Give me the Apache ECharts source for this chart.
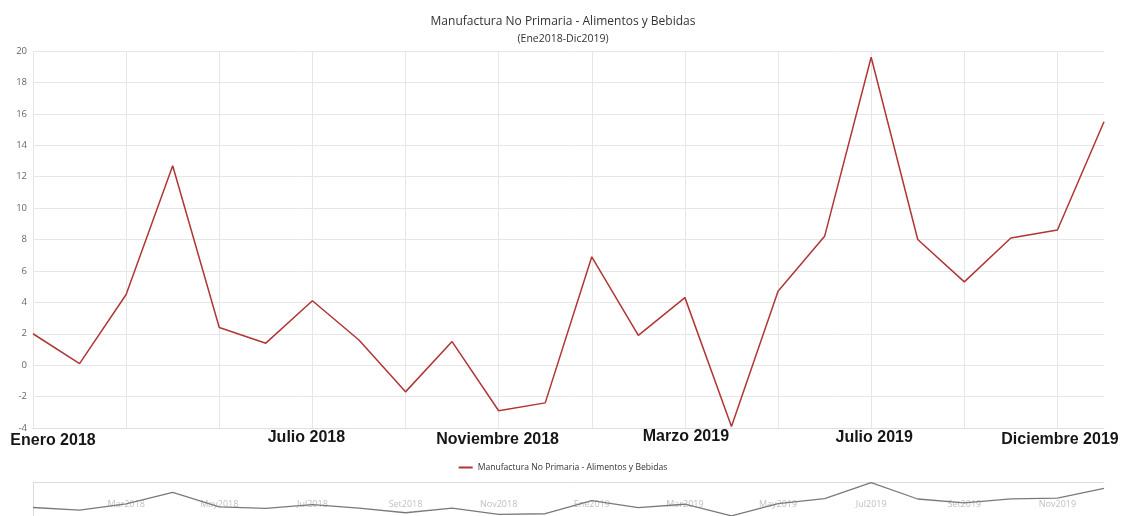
<!DOCTYPE html>
<html>
<head>
<meta charset="utf-8">
<script src="https://cdn.jsdelivr.net/npm/echarts@6/dist/echarts.min.js"></script>
<style>html,body{margin:0;padding:0;background:#fff;}#c{width:1126px;height:516px;}</style>
</head>
<body>
<div id="c"></div>
<script>
const categories = ['Ene2018','Feb2018','Mar2018','Abr2018','May2018','Jun2018','Jul2018','Ago2018','Set2018','Oct2018','Nov2018','Dic2018',
                    'Ene2019','Feb2019','Mar2019','Abr2019','May2019','Jun2019','Jul2019','Ago2019','Set2019','Oct2019','Nov2019','Dic2019'];
const values = [2.0, 0.1, 4.5, 12.7, 2.4, 1.4, 4.1, 1.6, -1.7, 1.5, -2.9, -2.4,
                6.9, 1.9, 4.3, -3.9, 4.7, 8.2, 19.6, 8.0, 5.3, 8.1, 8.6, 15.5];
const seriesName = 'Manufactura No Primaria - Alimentos y Bebidas';
const titleText = 'Manufactura No Primaria - Alimentos y Bebidas';
const subtitleText = '(Ene2018-Dic2019)';
const yTicks = {min: -4, max: 20, interval: 2};
const highlightIdx = [0, 6, 10, 14, 18, 23];
const highlightLabels = ['Enero 2018', 'Julio 2018', 'Noviembre 2018', 'Marzo 2019', 'Julio 2019', 'Diciembre 2019'];

const chart = echarts.init(document.getElementById('c'), null, {renderer: 'canvas'});
const font = '"Open Sans", "Noto Sans", sans-serif';
chart.setOption({
  animation: false,
  backgroundColor: '#fff',
  title: {
    text: titleText, subtext: subtitleText, left: 'center', top: 11, itemGap: 6,
    textStyle: {fontFamily: font, fontSize: 12, fontWeight: 'normal', color: '#333'},
    subtextStyle: {fontFamily: font, fontSize: 10.5, color: '#333'}
  },
  legend: {
    data: [seriesName], top: 458, left: 'center', icon: 'rect', itemWidth: 14, itemHeight: 2, itemGap: 5,
    textStyle: {fontFamily: font, fontSize: 8.6, color: '#333'}
  },
  grid: [
    {left: 33, right: 22, top: 51, bottom: 88},
    {left: 33, right: 22, top: 482, height: 34}
  ],
  xAxis: [
    {type: 'category', gridIndex: 0, data: categories, boundaryGap: false,
     axisLine: {show: true, onZero: false, lineStyle: {color: '#e0e0e0'}}, axisTick: {show: false},
     axisLabel: {show: false},
     splitLine: {show: true, interval: 1, lineStyle: {color: '#e6e6e6'}}},
    {type: 'category', gridIndex: 1, data: categories, boundaryGap: false, position: 'top',
     axisLine: {show: true, onZero: false, lineStyle: {color: '#dcdcdc'}}, axisTick: {show: false},
     axisLabel: {show: true, inside: true, margin: 18, color: '#c0c0c0', fontFamily: font, fontSize: 9,
                 interval: (i) => i > 0 && i % 2 === 0},
     splitLine: {show: false}}
  ],
  yAxis: [
    {type: 'value', gridIndex: 0, min: yTicks.min, max: yTicks.max, interval: yTicks.interval,
     axisLine: {show: false}, axisTick: {show: false},
     axisLabel: {color: '#666', fontFamily: font, fontSize: 9.5, margin: 6},
     splitLine: {lineStyle: {color: '#e6e6e6'}}},
    {type: 'value', gridIndex: 1, min: yTicks.min, max: yTicks.max,
     axisLine: {show: true, onZero: false, lineStyle: {color: '#dcdcdc'}}, axisTick: {show: false},
     axisLabel: {show: false}, splitLine: {show: false}}
  ],
  series: [
    {name: seriesName, type: 'line', xAxisIndex: 0, yAxisIndex: 0, data: values,
     showSymbol: false, symbol: 'none', lineStyle: {color: '#b03535', width: 1.5}, itemStyle: {color: '#b03535'}},
    {name: 'nav', type: 'line', xAxisIndex: 1, yAxisIndex: 1, data: values,
     showSymbol: false, symbol: 'none', lineStyle: {color: '#7a7a7a', width: 1.3}, silent: true}
  ]
});

// bold period labels under the main axis, placed through the category scale
const dx = [20, -6, -1, 1, 3, -44];
const dy = [13, 10, 12, 9, 10, 12];
const graphics = highlightIdx.map((idx, k) => {
  const p = chart.convertToPixel({xAxisIndex: 0, yAxisIndex: 0}, [idx, yTicks.min]);
  return {
    type: 'text', x: p[0] + dx[k], y: p[1] + dy[k],
    style: {text: highlightLabels[k], font: 'bold 16px "Liberation Sans", Arial, sans-serif',
            fill: '#161616', align: 'center', verticalAlign: 'middle'}
  };
});
chart.setOption({graphic: graphics});
</script>
</body>
</html>
